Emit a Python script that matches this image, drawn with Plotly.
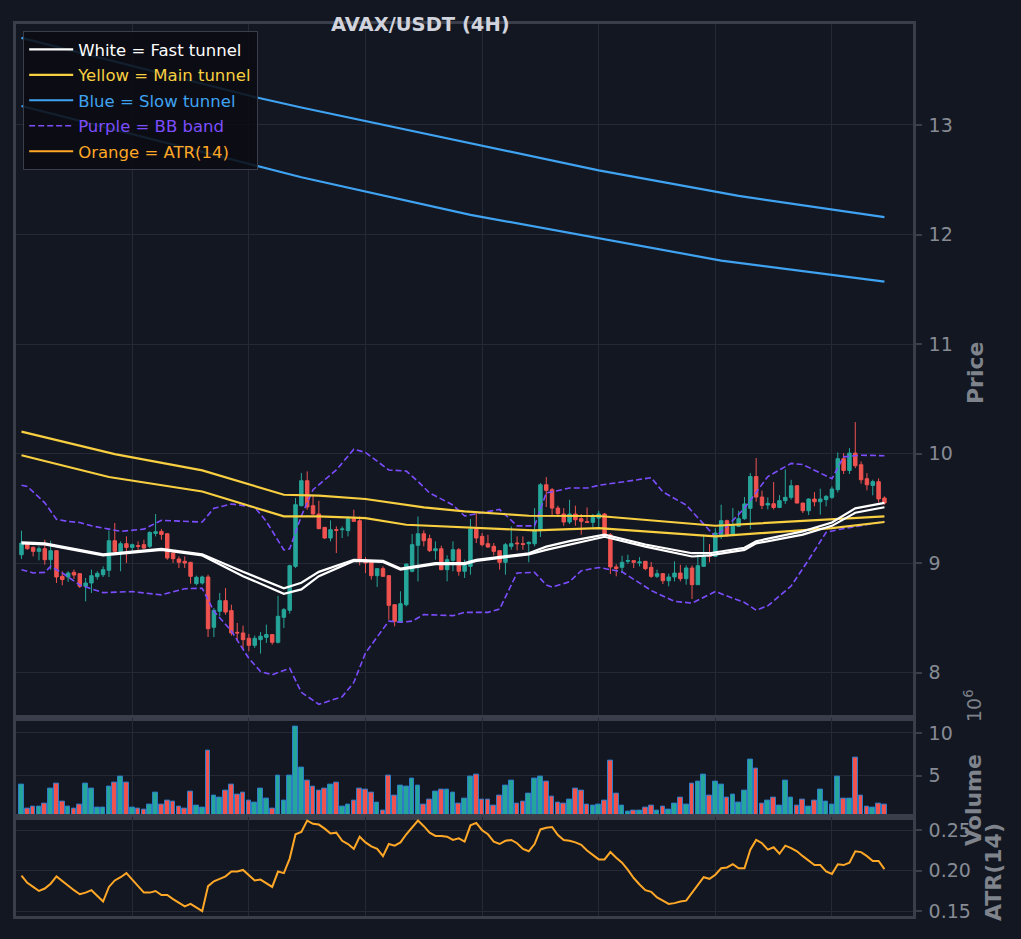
import plotly.graph_objects as go
from plotly.subplots import make_subplots

# ---- data (4H candles, index 0..148) ----
opens = [9.076, 9.174, 9.143, 9.107, 9.131, 9.031, 9.113, 8.879, 8.873, 8.915,
         8.903, 8.788, 8.818, 8.876, 8.894, 8.934, 9.204, 9.107, 9.177, 9.143,
         9.159, 9.168, 9.153, 9.271, 9.289, 9.268, 9.092, 9.037, 9.016, 9.007,
         8.812, 8.818, 8.873, 8.414, 8.560, 8.657, 8.566, 8.368, 8.362, 8.313,
         8.249, 8.301, 8.322, 8.347, 8.277, 8.505, 8.569, 8.970, 9.524, 9.752,
         9.524, 9.448, 9.326, 9.229, 9.305, 9.305, 9.296, 9.405, 9.387, 9.031,
         9.016, 8.885, 8.949, 8.885, 8.620, 8.462, 8.620, 8.925, 9.162, 9.268,
         9.223, 9.113, 9.131, 8.940, 9.025, 9.122, 8.925, 8.970, 9.311, 9.244,
         9.177, 9.153, 9.113, 9.007, 9.153, 9.183, 9.177, 9.177, 9.177, 9.296,
         9.715, 9.670, 9.502, 9.448, 9.375, 9.448, 9.405, 9.378, 9.372, 9.411,
         9.448, 9.259, 8.965, 8.961, 9.016, 9.022, 9.001, 9.016, 8.961, 8.879,
         8.903, 8.839, 8.873, 8.909, 8.858, 8.955, 8.803, 8.970, 9.067, 9.061,
         9.259, 9.387, 9.259, 9.335, 9.405, 9.500, 9.790, 9.603, 9.530, 9.542,
         9.508, 9.570, 9.600, 9.706, 9.548, 9.478, 9.585, 9.560, 9.579, 9.600,
         9.670, 9.953, 9.846, 10.004, 9.898, 9.770, 9.709, 9.743, 9.594]
highs = [9.296, 9.183, 9.153, 9.153, 9.213, 9.204, 9.118, 8.925, 8.925, 8.940,
         8.908, 8.864, 8.940, 8.925, 8.970, 9.296, 9.366, 9.198, 9.244, 9.177,
         9.198, 9.213, 9.289, 9.448, 9.311, 9.272, 9.096, 9.061, 9.061, 9.010,
         8.885, 8.885, 8.894, 8.590, 8.727, 8.772, 8.620, 8.453, 8.429, 8.353,
         8.338, 8.371, 8.438, 8.350, 8.702, 8.590, 8.985, 9.594, 9.822, 9.837,
         9.624, 9.569, 9.330, 9.390, 9.335, 9.335, 9.426, 9.487, 9.426, 9.055,
         9.020, 8.955, 8.970, 8.888, 8.623, 8.742, 8.995, 9.265, 9.426, 9.299,
         9.259, 9.198, 9.159, 9.071, 9.198, 9.137, 9.031, 9.402, 9.463, 9.274,
         9.259, 9.183, 9.116, 9.183, 9.335, 9.244, 9.244, 9.198, 9.502, 9.730,
         9.785, 9.685, 9.524, 9.502, 9.578, 9.524, 9.448, 9.508, 9.448, 9.478,
         9.457, 9.274, 8.990, 9.067, 9.077, 9.026, 9.055, 9.020, 9.010, 8.940,
         8.909, 8.903, 9.016, 8.985, 8.979, 8.979, 9.077, 9.259, 9.174, 9.320,
         9.533, 9.396, 9.502, 9.478, 9.603, 9.822, 9.959, 9.661, 9.600, 9.740,
         9.620, 9.855, 9.760, 9.710, 9.552, 9.590, 9.648, 9.679, 9.621, 9.700,
         10.010, 10.004, 10.050, 10.287, 9.928, 9.822, 9.761, 9.773, 9.609]
lows = [9.037, 9.122, 9.061, 9.025, 8.985, 8.940, 8.818, 8.797, 8.827, 8.855,
        8.772, 8.651, 8.727, 8.849, 8.873, 8.873, 9.092, 8.925, 9.001, 9.107,
        9.122, 9.128, 9.137, 9.244, 9.213, 9.031, 9.001, 8.955, 8.955, 8.812,
        8.797, 8.803, 8.325, 8.325, 8.514, 8.529, 8.338, 8.286, 8.210, 8.195,
        8.225, 8.173, 8.271, 8.255, 8.265, 8.408, 8.538, 8.955, 9.518, 9.487,
        9.442, 9.310, 9.220, 9.198, 9.092, 9.229, 9.244, 9.378, 8.979, 8.909,
        8.849, 8.782, 8.875, 8.483, 8.423, 8.458, 8.605, 8.915, 8.833, 9.153,
        9.101, 9.031, 8.934, 8.833, 8.925, 8.885, 8.864, 8.894, 9.183, 9.153,
        9.137, 9.071, 8.940, 8.894, 9.122, 9.116, 9.122, 9.007, 9.153, 9.238,
        9.512, 9.426, 9.420, 9.341, 9.356, 9.341, 9.259, 9.366, 9.326, 9.326,
        9.255, 8.900, 8.879, 8.915, 8.994, 8.955, 8.970, 8.934, 8.864, 8.864,
        8.809, 8.788, 8.833, 8.833, 8.803, 8.672, 8.800, 8.966, 9.007, 9.058,
        9.220, 9.238, 9.250, 9.329, 9.396, 9.311, 9.560, 9.493, 9.490, 9.490,
        9.502, 9.540, 9.580, 9.545, 9.457, 9.439, 9.518, 9.442, 9.518, 9.585,
        9.645, 9.813, 9.813, 9.867, 9.725, 9.664, 9.618, 9.554, 9.533]
closes = [9.183, 9.131, 9.107, 9.131, 9.031, 9.113, 8.873, 8.849, 8.909, 8.891,
          8.788, 8.818, 8.885, 8.906, 8.940, 9.204, 9.107, 9.177, 9.143, 9.168,
          9.153, 9.137, 9.280, 9.286, 9.262, 9.046, 9.040, 9.007, 9.001, 8.879,
          8.870, 8.873, 8.401, 8.568, 8.657, 8.553, 8.362, 8.362, 8.301, 8.249,
          8.313, 8.332, 8.347, 8.277, 8.514, 8.575, 8.976, 9.533, 9.752, 9.512,
          9.448, 9.314, 9.229, 9.305, 9.299, 9.311, 9.405, 9.381, 9.040, 9.001,
          8.885, 8.949, 8.879, 8.614, 8.468, 8.629, 8.991, 9.168, 9.268, 9.204,
          9.113, 9.131, 8.940, 9.031, 9.122, 8.925, 8.979, 9.311, 9.229, 9.168,
          9.147, 9.107, 9.007, 9.168, 9.177, 9.177, 9.171, 9.189, 9.305, 9.715,
          9.664, 9.502, 9.451, 9.375, 9.448, 9.396, 9.381, 9.372, 9.417, 9.448,
          9.259, 8.965, 8.950, 9.007, 9.022, 9.007, 9.010, 8.949, 8.879, 8.903,
          8.839, 8.873, 8.909, 8.858, 8.955, 8.803, 8.976, 9.061, 9.061, 9.274,
          9.387, 9.259, 9.341, 9.405, 9.540, 9.790, 9.603, 9.527, 9.545, 9.508,
          9.570, 9.600, 9.706, 9.548, 9.478, 9.585, 9.560, 9.585, 9.609, 9.676,
          9.953, 9.846, 10.004, 9.889, 9.761, 9.715, 9.743, 9.585, 9.548]

# volume in millions
volume = [3.9, 1.17, 1.33, 1.33, 1.76, 3.44, 4.0, 1.9, 1.33, 1.1,
          1.56, 4.0, 3.44, 1.2, 1.2, 3.67, 4.14, 4.84, 4.14, 1.2,
          1.1, 0.98, 1.56, 2.97, 1.64, 2.03, 1.9, 1.33, 1.1, 3.09,
          1.45, 1.2, 7.9, 2.62, 2.38, 3.2, 3.9, 2.73, 2.97, 2.03,
          1.8, 3.44, 2.27, 1.17, 4.96, 2.03, 4.96, 10.7, 5.9, 4.38,
          3.67, 3.2, 3.44, 3.9, 4.14, 1.33, 1.56, 2.03, 3.44, 3.32,
          2.97, 1.8, 0.86, 4.96, 2.62, 3.79, 3.67, 4.6, 3.79, 1.64,
          2.15, 3.09, 3.32, 3.32, 2.97, 1.76, 2.27, 4.84, 5.08, 2.15,
          2.15, 1.45, 2.62, 3.79, 4.38, 1.76, 1.9, 2.85, 4.6, 4.84,
          4.26, 2.5, 1.8, 1.68, 2.15, 3.44, 3.2, 1.56, 1.45, 1.56,
          2.03, 6.72, 2.85, 1.45, 0.74, 0.86, 0.86, 1.2, 1.45, 0.86,
          1.33, 0.98, 1.68, 2.38, 1.56, 4.0, 4.26, 5.08, 2.62, 4.26,
          3.9, 2.38, 2.73, 1.8, 3.2, 6.84, 5.78, 1.76, 2.03, 2.38,
          1.45, 4.38, 2.38, 1.45, 2.15, 1.33, 2.03, 3.32, 1.9, 1.56,
          4.84, 2.27, 2.27, 7.07, 2.62, 1.33, 1.2, 1.68, 1.56]

atr = [0.194, 0.185, 0.180, 0.175, 0.178, 0.184, 0.193, 0.187, 0.182, 0.176,
       0.171, 0.173, 0.176, 0.169, 0.162, 0.180, 0.188, 0.192, 0.197, 0.189,
       0.181, 0.173, 0.173, 0.175, 0.170, 0.170, 0.165, 0.161, 0.156, 0.159,
       0.155, 0.150, 0.181, 0.187, 0.190, 0.193, 0.199, 0.199, 0.201, 0.194,
       0.188, 0.189, 0.184, 0.180, 0.199, 0.197, 0.215, 0.245, 0.248, 0.262,
       0.258, 0.257, 0.252, 0.246, 0.247, 0.237, 0.233, 0.227, 0.242, 0.235,
       0.230, 0.227, 0.218, 0.233, 0.231, 0.235, 0.245, 0.254, 0.262, 0.255,
       0.247, 0.243, 0.243, 0.242, 0.238, 0.240, 0.236, 0.256, 0.259, 0.250,
       0.245, 0.236, 0.233, 0.237, 0.238, 0.234, 0.227, 0.224, 0.233, 0.251,
       0.253, 0.254, 0.244, 0.238, 0.237, 0.235, 0.232, 0.225, 0.219, 0.214,
       0.214, 0.223, 0.216, 0.210, 0.201, 0.191, 0.183, 0.176, 0.174, 0.167,
       0.163, 0.159, 0.160, 0.162, 0.163, 0.173, 0.183, 0.192, 0.190, 0.195,
       0.203, 0.204, 0.208, 0.203, 0.203, 0.226, 0.238, 0.234, 0.226, 0.229,
       0.221, 0.231, 0.228, 0.224, 0.218, 0.212, 0.207, 0.207, 0.199, 0.196,
       0.208, 0.207, 0.210, 0.224, 0.223, 0.218, 0.212, 0.212, 0.202]

# tunnels / bands, sampled at bar indices
fast_idx = [0, 4, 14, 24, 31, 38, 45, 48, 51, 57, 62, 65, 71, 76, 78, 87, 90, 94,
            100, 107, 115, 118, 124, 126, 134, 139, 143, 148]
fast_hi = [9.19, 9.18, 9.08, 9.13, 9.08, 8.92, 8.77, 8.82, 8.92, 9.03, 9.02, 8.95,
           9.00, 9.00, 9.03, 9.09, 9.15, 9.20, 9.26, 9.17, 9.09, 9.09, 9.14, 9.20,
           9.29, 9.37, 9.50, 9.55]
fast_lo = [9.18, 9.17, 9.07, 9.12, 9.07, 8.88, 8.72, 8.76, 8.88, 9.02, 9.01, 8.94,
           8.99, 8.99, 9.02, 9.08, 9.12, 9.17, 9.24, 9.15, 9.06, 9.07, 9.12, 9.18,
           9.26, 9.34, 9.46, 9.51]

main_hi_idx = [0, 16, 31, 45, 51, 59, 69, 76, 87, 99, 119, 139, 148]
main_hi = [10.20, 9.995, 9.846, 9.624, 9.615, 9.585, 9.508, 9.472, 9.432, 9.43,
           9.341, 9.396, 9.426]
main_lo_idx = [0, 15, 31, 45, 51, 59, 66, 78, 88, 99, 119, 139, 148]
main_lo = [9.985, 9.786, 9.654, 9.426, 9.426, 9.411, 9.35, 9.32, 9.298, 9.32,
           9.244, 9.32, 9.375]

slow_hi_idx = [0, 40, 48, 77, 99, 123, 148]
slow_hi = [13.795, 13.255, 13.16, 12.835, 12.585, 12.352, 12.158]
slow_lo_idx = [0, 48, 77, 99, 120, 148]
slow_lo = [13.173, 12.523, 12.179, 11.966, 11.762, 11.570]

bb_up_idx = [0, 1, 4, 6, 8, 10, 12, 17, 21, 24, 31, 33, 36, 40, 42, 45, 46, 48, 50, 54,
             57, 59, 63, 66, 68, 70, 74, 76, 80, 82, 85, 88, 90, 94, 97, 99, 103, 108,
             110, 114, 119, 121, 124, 128, 132, 134, 139, 141, 144, 148]
bb_up = [9.71, 9.70, 9.55, 9.40, 9.38, 9.37, 9.34, 9.29, 9.31, 9.39, 9.375, 9.50, 9.54,
         9.51, 9.38, 9.12, 9.13, 9.43, 9.67, 9.85, 10.04, 10.01, 9.85, 9.84, 9.745,
         9.64, 9.53, 9.43, 9.47, 9.49, 9.34, 9.34, 9.64, 9.685, 9.685, 9.71, 9.74,
         9.78, 9.65, 9.53, 9.24, 9.335, 9.50, 9.79, 9.91, 9.90, 9.77, 9.97, 9.985, 9.98]
bb_lo_idx = [0, 2, 4, 5, 7, 10, 14, 19, 24, 28, 31, 33, 36, 39, 41, 43, 46, 48, 51, 55,
             57, 59, 63, 65, 67, 69, 74, 76, 80, 82, 85, 88, 90, 91, 94, 96, 99, 103,
             108, 112, 115, 119, 124, 126, 128, 132, 135, 138, 140, 144, 148]
bb_lo = [8.94, 8.91, 8.915, 8.97, 8.91, 8.80, 8.73, 8.74, 8.71, 8.766, 8.77, 8.56,
         8.38, 8.13, 8.01, 7.98, 8.04, 7.82, 7.71, 7.78, 7.91, 8.18, 8.47, 8.46, 8.47,
         8.53, 8.52, 8.55, 8.55, 8.58, 8.91, 8.915, 8.80, 8.78, 8.83, 8.93, 8.96, 8.92,
         8.75, 8.65, 8.635, 8.74, 8.64, 8.57, 8.61, 8.79, 9.03, 9.28, 9.305, 9.34, 9.38]

# ---- styling ----
BG = "#131722"
GRID = "#252935"
SPINE = "#3a3e4a"
TICK = "#878b94"
FONT = "DejaVu Sans"
UP, DOWN = "#26a69a", "#ef5350"
WHITE, YELLOW, BLUE, PURPLE, ORANGE = "#ffffff", "#f8cf40", "#3fa3f2", "#7c4dff", "#ffa726"

idx = list(range(len(closes)))
vol_colors = [UP if c >= o else DOWN for o, c in zip(opens, closes)]

fig = make_subplots(rows=3, cols=1, shared_xaxes=True, vertical_spacing=0)

fig.add_trace(go.Candlestick(
    x=idx, open=opens, high=highs, low=lows, close=closes,
    increasing=dict(line=dict(color=UP, width=1), fillcolor=UP),
    decreasing=dict(line=dict(color=DOWN, width=1), fillcolor=DOWN),
    whiskerwidth=0, showlegend=False, hoverinfo="skip"), row=1, col=1)


def legend_name(text, color):
    return f"<span style='color:{color}'>{text}</span>"


def add_line(x, y, color, width, name=None, dash="solid", row=1, rank=None):
    fig.add_trace(go.Scatter(
        x=x, y=y, mode="lines", line=dict(color=color, width=width, dash=dash),
        name=name if name else "line", showlegend=name is not None,
        legendgroup=f"g{rank}" if rank else None,
        legendrank=rank if rank else 1000, hoverinfo="skip"), row=row, col=1)


add_line(bb_up_idx, bb_up, PURPLE, 1.6, legend_name("Purple = BB band", PURPLE), "6px,3px", rank=4)
add_line(bb_lo_idx, bb_lo, PURPLE, 1.6, dash="6px,3px")
add_line(slow_hi_idx, slow_hi, BLUE, 2.2, legend_name("Blue = Slow tunnel", BLUE), rank=3)
add_line(slow_lo_idx, slow_lo, BLUE, 2.2)
add_line(main_hi_idx, main_hi, YELLOW, 2.2, legend_name("Yellow = Main tunnel", YELLOW), rank=2)
add_line(main_lo_idx, main_lo, YELLOW, 2.2)
add_line(fast_idx, fast_hi, WHITE, 2.2, legend_name("White = Fast tunnel", WHITE), rank=1)
add_line(fast_idx, fast_lo, WHITE, 2.2)

fig.add_trace(go.Bar(
    x=idx, y=volume, width=0.8,
    marker=dict(color=vol_colors, line=dict(color="#2c7cc8", width=1)),
    showlegend=False, hoverinfo="skip"), row=2, col=1)

add_line(idx, atr, ORANGE, 2, legend_name("Orange = ATR(14)", ORANGE), row=3, rank=5)

xax = dict(range=[-0.94, 152.9], showgrid=True, gridcolor=GRID, gridwidth=1,
           tick0=19, dtick=20, showticklabels=False, ticks="", zeroline=False,
           showline=True, mirror=True, linecolor=SPINE, linewidth=2.5,
           rangeslider=dict(visible=False))
yax = dict(side="right", showgrid=True, gridcolor=GRID, gridwidth=1, zeroline=False,
           showline=True, mirror=True, linecolor=SPINE, linewidth=2.5,
           ticks="outside", ticklen=6, tickwidth=2, tickcolor=SPINE,
           ticklabelstandoff=3,
           tickfont=dict(family=FONT, size=19, color=TICK))

fig.update_layout(
    width=1021, height=939,
    paper_bgcolor=BG, plot_bgcolor=BG,
    margin=dict(l=16, r=108, t=24, b=23),
    boxgap=0.3, boxgroupgap=0.15,
    bargap=0,
    xaxis=dict(xax), xaxis2=dict(xax), xaxis3=dict(xax),
    yaxis=dict(yax, domain=[0.2224, 1.0], range=[7.589, 13.922],
               tickvals=[8, 9, 10, 11, 12, 13]),
    yaxis2=dict(yax, domain=[0.1115, 0.2224], range=[0.19, 11.8],
                tickvals=[5, 10]),
    yaxis3=dict(yax, domain=[0.0, 0.1115], range=[0.1441, 0.2669],
                tickvals=[0.15, 0.20, 0.25], ticktext=["0.15", "0.20", "0.25"]),
    legend=dict(x=0.008, y=0.992, xanchor="left", yanchor="top",
                bgcolor="rgba(11,13,18,0.88)", bordercolor=SPINE, borderwidth=1,
                font=dict(family=FONT, size=16.5, color=WHITE),
                traceorder="grouped", tracegroupgap=1, itemwidth=44),
    font=dict(family=FONT),
)

label_font = dict(family=FONT, size=22, color="#7f838c")
fig.add_annotation(text="<b>AVAX/USDT (4H)</b>", xref="paper", yref="paper",
                   x=0.4504, y=1.0, xanchor="center", yanchor="middle", showarrow=False,
                   font=dict(family=FONT, size=19.5, color="#d1d4dc"))
fig.add_annotation(text="<b>Price</b>", xref="paper", yref="paper", x=1.0691, y=0.6087,
                   textangle=-90, showarrow=False, font=label_font,
                   xanchor="center", yanchor="middle")
fig.add_annotation(text="<b>Volume</b>", xref="paper", yref="paper", x=1.0669, y=0.130,
                   textangle=-90, showarrow=False, font=label_font,
                   xanchor="center", yanchor="middle")
fig.add_annotation(text="10<sup>6</sup>", xref="paper", yref="paper", x=1.0669, y=0.2354,
                   textangle=-90, showarrow=False,
                   font=dict(family=FONT, size=19, color="#7f838c"),
                   xanchor="center", yanchor="middle")
fig.add_annotation(text="<b>ATR(14)</b>", xref="paper", yref="paper", x=1.0892, y=0.0493,
                   textangle=-90, showarrow=False, font=label_font,
                   xanchor="center", yanchor="middle")

# drop the default page margin so the figure sits at the window's corner
fig.write_html("out.html", config={"displayModeBar": False},
               post_script="document.body.style.margin='0';"
                           "document.body.style.background='#131722';")
